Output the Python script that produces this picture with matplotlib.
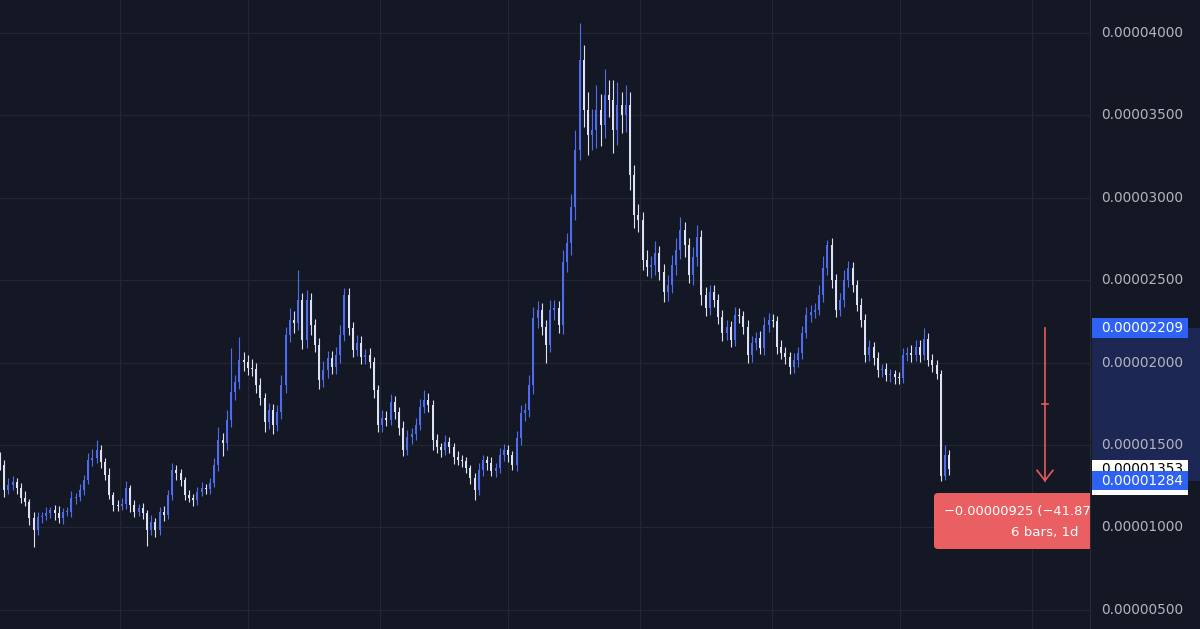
import numpy as np
import matplotlib
matplotlib.use("Agg")
import matplotlib.pyplot as plt
from matplotlib.patches import Rectangle, FancyBboxPatch
from matplotlib.transforms import blended_transform_factory, IdentityTransform

# ---- data (prices in units of 1e-8) ----
closes = [
    1378, 1227, 1257, 1275, 1239, 1178, 1154, 1057, 984, 1063,
    1070, 1087, 1105, 1087, 1057, 1093, 1093, 1178, 1184, 1227,
    1287, 1409, 1421, 1469, 1397, 1318, 1196, 1136, 1130, 1142,
    1239, 1136, 1093, 1117, 1087, 984, 1033, 984, 1093, 1075,
    1196, 1348, 1330, 1287, 1196, 1178, 1166, 1215, 1239, 1233,
    1269, 1378, 1530, 1512, 1651, 1821, 1882, 2015, 2003, 1967,
    1960, 1864, 1785, 1639, 1712, 1621, 1700, 1864, 2167, 2258,
    2240, 2380, 2137, 2380, 2228, 2107, 1894, 1955, 2028, 1973,
    2046, 2167, 2410, 2210, 2076, 2119, 2034, 2046, 2003, 1833,
    1621, 1664, 1650, 1761, 1700, 1603, 1469, 1548, 1566, 1621,
    1730, 1773, 1742, 1530, 1488, 1469, 1518, 1488, 1427, 1409,
    1400, 1360, 1300, 1227, 1348, 1409, 1390, 1342, 1360, 1439,
    1469, 1439, 1378, 1542, 1694, 1712, 1864, 2270, 2319, 2216,
    2107, 2319, 2330, 2228, 2610, 2725, 2944, 3290, 3836, 3532,
    3381, 3411, 3532, 3441, 3624, 3593, 3411, 3563, 3502, 3563,
    3138, 2895, 2865, 2622, 2580, 2592, 2665, 2550, 2428, 2471,
    2592, 2683, 2804, 2713, 2531, 2640, 2762, 2410, 2331, 2428,
    2380, 2276, 2179, 2216, 2137, 2289, 2280, 2216, 2046, 2119,
    2149, 2088, 2228, 2258, 2250, 2094, 2058, 2034, 1973, 2015,
    2058, 2179, 2289, 2307, 2319, 2410, 2574, 2713, 2501, 2319,
    2380, 2501, 2574, 2471, 2349, 2258, 2046, 2094, 2028, 1955,
    1962, 1924, 1930, 1912, 1906, 2046, 2058, 2046, 2094, 2046,
    2140, 2015, 1985, 1930, 1310, 1440, 1353,
]
first_open = 1420
upper_wick = [
    40, 30, 45, 35, 25, 30, 40, 20, 35, 30,
    25, 35, 20, 30, 40, 25, 30, 45, 25, 35,
    30, 40, 55, 61, 30, 25, 40, 20, 30, 35,
    45, 20, 30, 25, 30, 20, 40, 25, 30, 35,
    30, 45, 30, 25, 20, 30, 25, 30, 35, 25,
    30, 40, 79, 40, 60, 270, 45, 140, 50, 40,
    55, 35, 40, 30, 45, 35, 40, 60, 50, 70,
    55, 182, 45, 60, 40, 35, 40, 55, 45, 40,
    50, 60, 40, 45, 35, 50, 40, 35, 45, 30,
    30, 45, 40, 50, 35, 30, 40, 45, 35, 40,
    50, 60, 40, 30, 35, 25, 40, 30, 25, 35,
    30, 25, 20, 30, 45, 30, 25, 35, 30, 40,
    35, 30, 25, 40, 50, 45, 60, 70, 55, 45,
    40, 60, 50, 45, 70, 60, 80, 120, 224, 90,
    110, 130, 150, 100, 160, 90, 120, 140, 80, 120,
    80, 60, 70, 50, 60, 55, 70, 45, 50, 60,
    60, 70, 80, 50, 45, 60, 70, 40, 50, 45,
    40, 35, 45, 40, 35, 48, 40, 35, 45, 40,
    35, 45, 50, 40, 35, 30, 40, 35, 30, 40,
    35, 45, 50, 40, 45, 60, 70, 31, 40, 35,
    45, 60, 40, 35, 30, 40, 35, 40, 30, 35,
    30, 35, 30, 25, 30, 40, 35, 50, 45, 40,
    69, 40, 35, 30, 25, 60, 30,
]
lower_wick = [
    30, 40, 25, 30, 35, 30, 25, 40, 103, 30,
    35, 25, 30, 40, 30, 35, 25, 30, 35, 25,
    30, 25, 35, 30, 40, 30, 25, 35, 30, 25,
    30, 40, 30, 25, 35, 97, 30, 40, 30, 35,
    25, 30, 40, 35, 30, 25, 35, 30, 25, 30,
    30, 25, 35, 80, 40, 45, 50, 40, 55, 45,
    40, 50, 45, 60, 40, 55, 35, 40, 50, 45,
    60, 45, 55, 50, 60, 45, 55, 40, 50, 45,
    40, 50, 35, 45, 40, 35, 45, 40, 35, 50,
    45, 40, 35, 30, 40, 45, 35, 30, 40, 35,
    30, 35, 40, 60, 35, 40, 30, 35, 40, 30,
    35, 30, 40, 61, 30, 35, 40, 30, 35, 30,
    35, 40, 30, 35, 40, 50, 45, 55, 60, 50,
    110, 45, 60, 50, 55, 60, 70, 80, 60, 100,
    120, 90, 110, 130, 80, 100, 140, 90, 110, 100,
    90, 80, 70, 60, 55, 70, 60, 50, 60, 55,
    50, 60, 55, 70, 50, 60, 55, 60, 50, 45,
    40, 45, 50, 40, 45, 35, 40, 45, 50, 40,
    40, 35, 45, 40, 35, 40, 35, 45, 40, 35,
    40, 35, 30, 40, 35, 30, 40, 45, 50, 40,
    35, 40, 45, 40, 35, 40, 45, 35, 40, 45,
    40, 35, 45, 40, 35, 30, 35, 40, 35, 45,
    30, 35, 40, 30, 26, 20, 35,
]
y_ticks = [500, 1000, 1500, 2000, 2500, 3000, 3500, 4000]
month_lines = [28.6, 59.0, 90.5, 121.0, 152.4, 183.8, 214.3, 245.7]
range_high = 2209
range_low = 1284
last_price = 1353
measure_text = "\u22120.00000925 (\u221241.87%) \u2212925"
measure_text2 = "6 bars, 1d"
measure_bar = 248.8

SCALE = 1e-8
def fmt(v):
    return f"{v * SCALE:.8f}"

# ---- build OHLC ----
c = np.array(closes, dtype=float)
o = np.concatenate([[first_open], c[:-1]])
h = np.maximum(o, c) + np.array(upper_wick)
l = np.minimum(o, c) - np.array(lower_wick)
x = np.arange(len(c))

BG = "#141824"
GRID = "#222633"
UP = "#4d6cf2"
DOWN = "#dde1f5"
RED = "#e85b5d"

W, H = 1200, 629
fig = plt.figure(figsize=(W / 100, H / 100), dpi=100, facecolor=BG)
PANE = 1090
BAR_PX = 4.2
PX = 6.068  # price units per pixel
ax = fig.add_axes([0, 0, PANE / W, 1])
ax.set_facecolor(BG)
ax.set_xlim(0, PANE / BAR_PX)
ax.set_ylim(383, 4200)
for s in ax.spines.values():
    s.set_visible(False)
ax.set_xticks([])
ax.set_yticks([])

for yv in y_ticks:
    ax.axhline(yv, color=GRID, lw=0.9, zorder=0)
for xv in month_lines:
    ax.axvline(xv, color=GRID, lw=0.9, zorder=0)

up = c >= o
cols = np.where(up, UP, DOWN)
ax.vlines(x, l, h, colors=cols, lw=0.8, zorder=2)
body_bot = np.minimum(o, c)
body_h = np.maximum(np.abs(c - o), 6)
ax.bar(x, body_h, bottom=body_bot, width=0.48, color=cols, edgecolor="none", zorder=3)

# measurement arrow
ax.plot([measure_bar, measure_bar], [range_high, range_low], color=RED, lw=1.2, zorder=4)
ax.plot([measure_bar - 1.9, measure_bar, measure_bar + 1.9],
        [range_low + 62, range_low, range_low + 62], color=RED, lw=1.2, zorder=4)
mid = (range_high + range_low) / 2
ax.plot([measure_bar - 0.7, measure_bar + 0.7], [mid, mid], color=RED, lw=1.2, zorder=4)

# measurement box (pixel coordinates, clipped by pane)
idt = IdentityTransform()
box = FancyBboxPatch((934, H - 549), 222, 56, boxstyle="round,pad=0,rounding_size=4",
                     transform=idt, facecolor="#ea5f62", edgecolor="none", zorder=5)
ax.add_patch(box)
box.set_clip_box(ax.bbox)
t1 = ax.text(944, H - 511, measure_text, color="white", fontsize=9.4, transform=idt,
             ha="left", va="center", zorder=6)
t2 = ax.text(measure_bar, 4200 - PX * 533, measure_text2, color="white", fontsize=9.6,
             ha="center", va="center", zorder=6)
t1.set_clip_box(ax.bbox)
t1.set_clip_on(True)
t2.set_clip_on(True)

# ---- right price axis ----
axr = fig.add_axes([PANE / W, 0, (W - PANE) / W, 1])
axr.set_facecolor(BG)
axr.set_xlim(0, 1)
axr.set_ylim(383, 4200)
for s in axr.spines.values():
    s.set_visible(False)
axr.set_xticks([])
axr.set_yticks([])
axr.axvline(0, color="#2b2f3b", lw=1.2)
tr = blended_transform_factory(axr.transAxes, axr.transData)
axr.add_patch(Rectangle((0.018, range_low), 1.0, range_high - range_low, transform=tr,
                        facecolor="#1c2754", edgecolor="none", zorder=1))
for yv in y_ticks:
    axr.text(0.1, yv, fmt(yv), transform=tr, color="#b2b5be", fontsize=9.8,
             ha="left", va="center", zorder=2)

LBL_H = 118
axr.add_patch(Rectangle((0.018, 4200 - PX * 495), 0.873, PX * 35, transform=tr,
                        facecolor="white", edgecolor="none", zorder=3))
axr.text(0.1, last_price, fmt(last_price), transform=tr, color="black", fontsize=9.8,
         ha="left", va="center", zorder=4)
for yv in (range_high, range_low):
    axr.add_patch(Rectangle((0.018, yv - LBL_H / 2), 0.873, LBL_H, transform=tr,
                            facecolor="#2e62f5", edgecolor="none", zorder=5))
    axr.text(0.1, yv, fmt(yv), transform=tr, color="white", fontsize=9.8,
             ha="left", va="center", zorder=6)

fig.savefig("out.png", dpi=100, facecolor=BG)
